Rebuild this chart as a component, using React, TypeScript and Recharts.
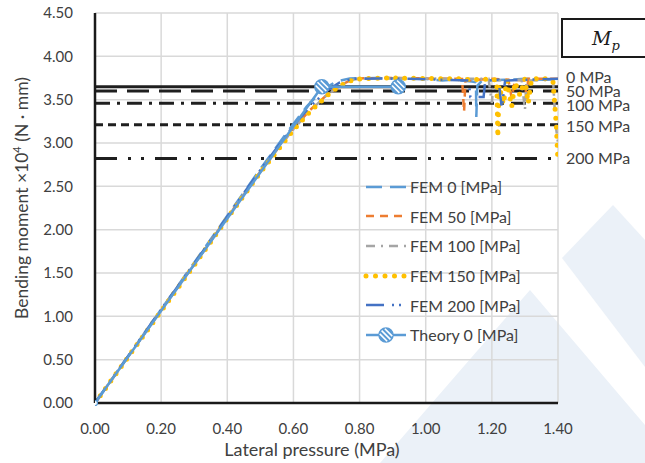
import React from 'react';
import { LineChart, Line, XAxis, YAxis, CartesianGrid, ReferenceLine } from 'recharts';

// axis ticks
const xTicks = [0, 0.2, 0.4, 0.6, 0.8, 1.0, 1.2, 1.4];
const yTicks = [0, 0.5, 1, 1.5, 2, 2.5, 3, 3.5, 4, 4.5];

// FEM 0 [MPa]
const fem0X = [0, 0.1, 0.2, 0.3, 0.4, 0.5, 0.58, 0.64, 0.69, 0.73, 0.77, 0.85, 0.95, 1.0, 1.05, 1.08, 1.14, 1.152, 1.153, 1.156, 1.17, 1.25, 1.3, 1.36, 1.4];
const fem0Y = [0, 0.54, 1.08, 1.62, 2.16, 2.7, 3.12, 3.42, 3.62, 3.71, 3.745, 3.75, 3.745, 3.74, 3.72, 3.73, 3.71, 3.7, 3.3, 3.66, 3.72, 3.73, 3.74, 3.73, 3.74];

// FEM 50 [MPa]
const fem50X = [0, 0.1, 0.2, 0.3, 0.4, 0.5, 0.6, 0.65, 0.7, 0.74, 0.77, 0.8, 0.9, 1.0, 1.11, 1.116, 1.12, 1.2, 1.25, 1.26, 1.27, 1.3, 1.305, 1.31, 1.4];
const fem50Y = [0, 0.535, 1.07, 1.6, 2.14, 2.67, 3.17, 3.38, 3.55, 3.66, 3.72, 3.745, 3.75, 3.745, 3.74, 3.36, 3.72, 3.74, 3.73, 3.52, 3.73, 3.72, 3.5, 3.74, 3.74];

// FEM 100 [MPa]
const fem100X = [0, 0.1, 0.2, 0.3, 0.4, 0.5, 0.6, 0.65, 0.7, 0.74, 0.77, 0.8, 0.9, 1.0, 1.1, 1.19, 1.2, 1.205, 1.29, 1.3, 1.305, 1.385, 1.39, 1.395, 1.4];
const fem100Y = [0, 0.535, 1.07, 1.6, 2.14, 2.67, 3.16, 3.37, 3.55, 3.66, 3.72, 3.745, 3.75, 3.745, 3.74, 3.74, 3.46, 3.72, 3.73, 3.38, 3.72, 3.73, 3.4, 3.15, 3.0];

// FEM 150 [MPa]
const fem150X = [0, 0.1, 0.2, 0.3, 0.4, 0.5, 0.6, 0.65, 0.7, 0.74, 0.78, 0.82, 0.9, 1.0, 1.1, 1.14, 1.2, 1.215, 1.218, 1.222, 1.235, 1.245, 1.26, 1.27, 1.285, 1.3, 1.31, 1.32, 1.37, 1.385, 1.39, 1.395, 1.4];
const fem150Y = [0, 0.53, 1.06, 1.59, 2.13, 2.66, 3.15, 3.36, 3.54, 3.66, 3.73, 3.745, 3.75, 3.745, 3.74, 3.73, 3.74, 3.72, 3.07, 3.66, 3.45, 3.72, 3.42, 3.7, 3.55, 3.74, 3.46, 3.74, 3.74, 3.7, 3.45, 3.2, 2.77];

// FEM 200 [MPa]
const fem200X = [0, 0.1, 0.2, 0.3, 0.4, 0.5, 0.6, 0.65, 0.7, 0.74, 0.78, 0.85, 0.95, 1.05, 1.13, 1.135, 1.175, 1.18, 1.22, 1.23, 1.24, 1.3, 1.4];
const fem200Y = [0, 0.54, 1.08, 1.61, 2.15, 2.69, 3.2, 3.42, 3.6, 3.7, 3.74, 3.745, 3.74, 3.73, 3.72, 3.53, 3.53, 3.72, 3.73, 3.4, 3.72, 3.73, 3.74];

// Theory 0 [MPa]
const theoryX = [0, 0.686, 0.917];
const theoryY = [0, 3.65, 3.65];

// plastic moment Mp for each pressure
const mpLabels = ['0 MPa', '50 MPa', '100 MPa', '150 MPa', '200 MPa'];
const mpValues = [3.65, 3.6, 3.46, 3.21, 2.82];

const zip = (xs: number[], ys: number[]) => xs.map((x, i) => ({ x, y: ys[i] }));

const FONT = 'Lato, "Noto Sans", sans-serif';
const TEXT = '#404040';

const series = [
  { name: 'FEM 0 [MPa]', data: zip(fem0X, fem0Y), color: '#5B9BD5', dash: '16 8', cap: 'butt' },
  { name: 'FEM 50 [MPa]', data: zip(fem50X, fem50Y), color: '#ED7D31', dash: '8 6', cap: 'butt' },
  { name: 'FEM 100 [MPa]', data: zip(fem100X, fem100Y), color: '#A5A5A5', dash: '9 6 2 6', cap: 'butt' },
  { name: 'FEM 150 [MPa]', data: zip(fem150X, fem150Y), color: '#FFC000', dash: '0 9', cap: 'round' },
  { name: 'FEM 200 [MPa]', data: zip(fem200X, fem200Y), color: '#4472C4', dash: '18 8 2 5 2 8', cap: 'butt' },
];

const mpStyles = [
  { dash: undefined, dy: -9 },
  { dash: '22 10', dy: 0 },
  { dash: '15 7 3 7', dy: 2 },
  { dash: '8 5', dy: 2 },
  { dash: '22 11 3 10 3 11', dy: 0 },
];

const StripedDot = ({ cx, cy, index }: any) => {
  if (cx == null || cy == null) return null;
  // the marker at the origin sits on the axes and shows only as a small ring
  if (index === 0) {
    return <circle cx={cx} cy={cy} r={2.5} fill="#fff" stroke="#5B9BD5" strokeWidth={1.2} />;
  }
  const r = 7;
  const lines = [-3.6, 0, 3.6].map((d) => {
    const h = Math.sqrt(r * r - d * d) - 0.8;
    const ox = d / Math.SQRT2;
    const oy = -d / Math.SQRT2;
    const k = h / Math.SQRT2;
    return { x1: cx + ox - k, y1: cy + oy - k, x2: cx + ox + k, y2: cy + oy + k };
  });
  return (
    <g>
      <circle cx={cx} cy={cy} r={r} fill="#5B9BD5" stroke="#5B9BD5" strokeWidth={1.5} />
      {lines.map((l, i) => (
        <line key={i} {...l} stroke="#fff" strokeWidth={1.6} />
      ))}
    </g>
  );
};

const LegendBox = () => (
  <div style={{ fontFamily: FONT, fontSize: 16, color: TEXT }}>
    {series.map((s) => (
      <div key={s.name} style={{ display: 'flex', alignItems: 'center', height: 29.6 }}>
        <svg width={46} height={20}>
          <line x1={4} y1={10} x2={44} y2={10} stroke={s.color} strokeWidth={s.cap === 'round' ? 5 : 2.5}
            strokeDasharray={s.cap === 'round' ? '0 9.5' : s.dash} strokeLinecap={s.cap as any} />
        </svg>
        <span style={{ marginLeft: 2 }}>{s.name}</span>
      </div>
    ))}
    <div style={{ display: 'flex', alignItems: 'center', height: 29.6 }}>
      <svg width={46} height={20}>
        <line x1={4} y1={10} x2={44} y2={10} stroke="#5B9BD5" strokeWidth={2.5} />
        <StripedDot cx={24} cy={10} index={1} />
      </svg>
      <span style={{ marginLeft: 2 }}>Theory 0 [MPa]</span>
    </div>
  </div>
);

const YLabel = () => (
  <text transform="translate(28,198) rotate(-90)" textAnchor="middle" fill={TEXT} fontFamily={FONT} fontSize={17.5}>
    <tspan>Bending moment {'\u00D7'}10</tspan>
    <tspan dy={-7} fontSize={11}>4</tspan>
    <tspan dy={7}> (N {'\u00B7'} mm)</tspan>
  </text>
);

const XLabel = () => (
  <text x={312} y={456} textAnchor="middle" fill={TEXT} fontFamily={FONT} fontSize={18}>
    Lateral pressure (MPa)
  </text>
);

const App: React.FC = () => {
  return (
    <div style={{ position: 'absolute', left: 0, top: 0, width: 645, height: 463, background: '#fff', overflow: 'hidden' }}>
      <svg width={645} height={463} style={{ position: 'absolute', left: 0, top: 0 }}>
        <polygon points="613,205 645,240 645,367 562,258" fill="#EBF1F8" />
        <polygon points="530,290 645,425 645,463 380,463" fill="#EBF1F8" />
      </svg>
      <div style={{ position: 'absolute', left: 0, top: 0 }}>
        <LineChart width={645} height={463} margin={{ top: 13, right: 87, bottom: 30, left: 35 }}>
          <CartesianGrid stroke="#D9D9D9" strokeWidth={1.5} />
          <XAxis type="number" dataKey="x" domain={[0, 1.4]} ticks={xTicks} tickFormatter={(v: number) => v.toFixed(2)}
            height={30} tickLine={false} tickSize={0} tickMargin={20} axisLine={{ stroke: '#1a1a1a', strokeWidth: 2.5 }}
            tick={{ fill: TEXT, fontFamily: FONT, fontSize: 15 }} allowDataOverflow label={<XLabel />} />
          <YAxis type="number" dataKey="y" domain={[0, 4.5]} ticks={yTicks} tickFormatter={(v: number) => v.toFixed(2)}
            width={60} tickLine={false} tickSize={0} tickMargin={22} axisLine={{ stroke: '#1a1a1a', strokeWidth: 2.5 }}
            tick={{ fill: TEXT, fontFamily: FONT, fontSize: 15 }} label={<YLabel />} />
          {mpValues.map((v, i) => (
            <ReferenceLine key={mpLabels[i]} y={v} stroke="#1f1f1f" strokeWidth={3} strokeDasharray={mpStyles[i].dash}
              label={(props: any) => {
                const vb = props.viewBox || {};
                return (
                  <text x={(vb.x ?? 0) + (vb.width ?? 0) + 8} y={(vb.y ?? 0) + mpStyles[i].dy} dy="0.35em"
                    fill={TEXT} fontFamily={FONT} fontSize={16}>{mpLabels[i]}</text>
                );
              }} />
          ))}
          {series.map((s) => (
            <Line key={s.name} data={s.data} dataKey="y" name={s.name} type="linear" stroke={s.color}
              strokeWidth={s.cap === 'round' ? 5 : 2.5} strokeDasharray={s.dash} strokeLinecap={s.cap as any}
              dot={false} isAnimationActive={false} />
          ))}
          <Line data={zip(theoryX, theoryY)} dataKey="y" name="Theory 0 [MPa]" type="linear" stroke="#5B9BD5"
            strokeWidth={2.5} dot={<StripedDot />} isAnimationActive={false} />
        </LineChart>
      </div>
      <div style={{ position: 'absolute', left: 362, top: 172 }}>
        <LegendBox />
      </div>
      <div style={{ position: 'absolute', left: 561, top: 18, width: 100, height: 36, border: '2.5px solid #1a1a1a',
        background: '#fff', fontFamily: '"DejaVu Serif", "Liberation Serif", serif', fontStyle: 'italic', fontSize: 19,
        color: '#1a1a1a', boxSizing: 'content-box' }}>
        <span style={{ position: 'absolute', left: 29, top: 7 }}>M<sub style={{ fontSize: 13 }}>p</sub></span>
      </div>
    </div>
  );
};

export default App;
